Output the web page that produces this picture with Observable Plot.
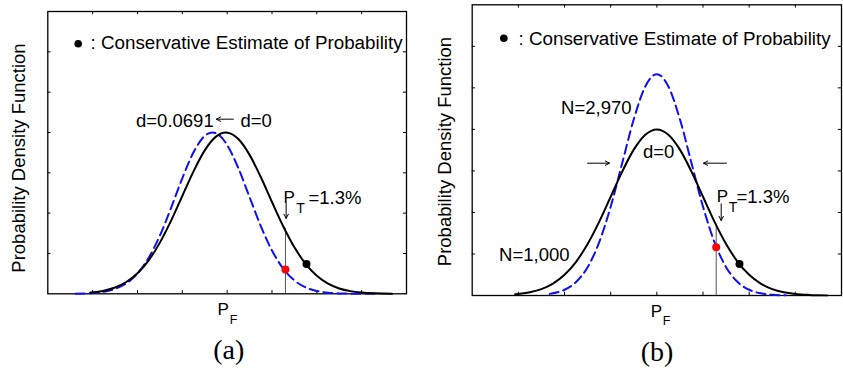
<!DOCTYPE html>
<html>
<head>
<meta charset="utf-8">
<script src="https://cdn.jsdelivr.net/npm/d3@7"></script>
<script src="https://cdn.jsdelivr.net/npm/@observablehq/plot@0.6"></script>
<style>
  html, body { margin: 0; padding: 0; background: white; }
  #wrap { display: flex; flex-direction: row; width: 843px; height: 371px; }
  #wrap svg { display: block; }
</style>
</head>
<body>
<div id="wrap"><div id="a"></div><div id="b"></div></div>
<script>
// ---- data (x in axis units 0..8, density in axis units 0..7) ----
const xTicks = [1, 2, 3, 4, 5, 6, 7];
const yTicks = [1, 2, 3, 4, 5, 6];

// Panel (a): d = 0 (solid black) and d = 0.0691 (dashed blue)
const aSolidU = [0.95, 1.25, 1.5, 1.75, 2, 2.25, 2.5, 2.75, 3, 3.25, 3.5, 3.75, 3.97, 4.25, 4.5, 4.75, 5, 5.25, 5.5, 5.75, 6, 6.25, 6.5, 6.75, 7, 7.3, 7.68];
const aSolidV = [0.031, 0.078, 0.156, 0.292, 0.509, 0.831, 1.269, 1.814, 2.426, 3.037, 3.557, 3.898, 4, 3.837, 3.445, 2.895, 2.276, 1.675, 1.153, 0.743, 0.448, 0.253, 0.133, 0.066, 0.030, 0.011, 0.003];
const aDashU = [0.62, 1, 1.25, 1.5, 1.75, 2, 2.25, 2.5, 2.75, 3, 3.25, 3.5, 3.67, 3.85, 4, 4.25, 4.5, 4.75, 5, 5.25, 5.5, 5.75, 6, 6.25, 6.5, 7, 7.37];
const aDashV = [0.004, 0.020, 0.051, 0.121, 0.258, 0.503, 0.893, 1.445, 2.132, 2.865, 3.508, 3.915, 4, 3.905, 3.689, 3.115, 2.396, 1.680, 1.074, 0.625, 0.332, 0.160, 0.071, 0.028, 0.010, 0.001, 0];
const aTargetU = 5.30;            // P_T position
const aTargetTop = 1.62;          // where the P_T line meets the solid curve
const aDots = [
  { u: 5.30, v: 0.60, kind: "target" },
  { u: 5.77, v: 0.74, kind: "conservative" }
];

// Panel (b): N = 1,000 (solid black) and N = 2,970 (dashed blue)
const bSolidU = [0.93, 1.25, 1.5, 1.75, 2, 2.25, 2.5, 2.75, 3, 3.25, 3.5, 3.75, 4, 4.25, 4.5, 4.75, 5, 5.25, 5.5, 5.75, 6, 6.25, 6.5, 6.75, 7, 7.3, 7.69];
const bSolidV = [0.030, 0.078, 0.154, 0.287, 0.498, 0.812, 1.240, 1.773, 2.377, 2.984, 3.512, 3.872, 4, 3.872, 3.512, 2.984, 2.377, 1.773, 1.240, 0.812, 0.498, 0.287, 0.154, 0.078, 0.037, 0.014, 0.003];
const bDashU = [1.68, 2, 2.25, 2.5, 2.75, 3, 3.25, 3.5, 3.75, 4, 4.25, 4.5, 4.75, 5, 5.25, 5.5, 5.75, 6, 6.25, 6.5, 6.79];
const bDashV = [0.039, 0.138, 0.325, 0.683, 1.280, 2.139, 3.190, 4.242, 5.034, 5.33, 5.034, 4.242, 3.190, 2.139, 1.280, 0.683, 0.325, 0.138, 0.052, 0.018, 0.004];
const bTargetU = 5.286;
const bTargetTop = 1.70;
const bDots = [
  { u: 5.286, v: 1.16, kind: "target" },
  { u: 5.79, v: 0.76, kind: "conservative" }
];

const legendText = ": Conservative Estimate of Probability";
const yLabel = "Probability Density Function";

// ---- helpers ----
const FONT = "Liberation Sans, Arial, Helvetica, sans-serif";
const SERIF = "Liberation Serif, Times New Roman, serif";
const pts = (us, vs) => us.map((u, i) => ({ u, v: vs[i] }));

function label(text, u, v, o = {}) {
  return Plot.text([text], {
    x: () => u, y: () => v, text: d => d,
    textAnchor: o.anchor || "start", lineAnchor: "middle",
    fontSize: o.size || 18.5, fontFamily: o.family || FONT,
    fill: "black", rotate: o.rotate || 0
  });
}
function arrow(u1, v1, u2, v2) {
  return Plot.arrow([0], {
    x1: () => u1, y1: () => v1, x2: () => u2, y2: () => v2,
    stroke: "black", strokeWidth: 1, headLength: 7, headAngle: 55
  });
}
function frameTicks() {
  return [
    Plot.ruleX(xTicks, { x: d => d, y1: () => 0, y2: () => 0.08, stroke: "black", strokeWidth: 1 }),
    Plot.ruleX(xTicks, { x: d => d, y1: () => 6.92, y2: () => 7, stroke: "black", strokeWidth: 1 }),
    Plot.ruleY(yTicks, { y: d => d, x1: () => 0, x2: () => 0.07, stroke: "black", strokeWidth: 1 }),
    Plot.ruleY(yTicks, { y: d => d, x1: () => 7.93, x2: () => 8, stroke: "black", strokeWidth: 1 }),
    Plot.frame({ stroke: "black", strokeWidth: 1.3 })
  ];
}
function curves(solid, dashed, tU, tTop, dots) {
  return [
    Plot.ruleX([tU], { x: d => d, y1: () => 0, y2: () => tTop, stroke: "#555", strokeWidth: 1 }),
    Plot.line(dashed, { x: "u", y: "v", stroke: "#1010ee", strokeWidth: 2, strokeDasharray: "9,5", curve: "monotone-x" }),
    Plot.line(solid, { x: "u", y: "v", stroke: "black", strokeWidth: 2, curve: "monotone-x" }),
    Plot.dot(dots, { x: "u", y: "v", r: 4, fill: d => d.kind === "target" ? "#ff0000" : "black", stroke: "none" })
  ];
}
const baseStyle = { fontFamily: FONT, background: "white", overflow: "visible" };

// ---- panel (a) ----
const chartA = Plot.plot({
  width: 420, height: 371,
  marginLeft: 47.3, marginRight: 14, marginTop: 11, marginBottom: 77.7,
  x: { domain: [0, 8], axis: null },
  y: { domain: [0, 7], axis: null },
  style: baseStyle,
  marks: [
    ...frameTicks(),
    ...curves(pts(aSolidU, aSolidV), pts(aDashU, aDashV), aTargetU, aTargetTop, aDots),
    Plot.dot([0], { x: () => 0.678, y: () => 6.2, r: 3.8, fill: "black", stroke: "none" }),
    label(legendText, 0.952, 6.215, { size: 18.8 }),
    label("d=0.0691", 3.70, 4.285, { anchor: "end" }),
    arrow(4.14, 4.33, 3.76, 4.33),
    label("d=0", 4.297, 4.285),
    label("P", 5.257, 2.375, { size: 17 }),
    label("T", 5.54, 2.11, { size: 14 }),
    label("=1.3%", 5.814, 2.375),
    arrow(5.316, 2.24, 5.316, 1.87),
    label("P", 3.785, -0.39, { size: 17 }),
    label("F", 4.06, -0.66, { size: 12.5 }),
    label("(a)", 4.036, -1.40, { anchor: "middle", size: 28, family: SERIF }),
    label(yLabel, -0.63, 3.367, { anchor: "middle", rotate: -90 })
  ]
});
document.getElementById("a").appendChild(chartA);

// ---- panel (b) ----
const chartB = Plot.plot({
  width: 423, height: 371,
  marginLeft: 51.7, marginRight: 2, marginTop: 4.3, marginBottom: 76,
  x: { domain: [0, 8], axis: null },
  y: { domain: [0, 7], axis: null },
  style: baseStyle,
  marks: [
    ...frameTicks(),
    ...curves(pts(bSolidU, bSolidV), pts(bDashU, bDashV), bTargetU, bTargetTop, bDots),
    Plot.dot([0], { x: () => 0.685, y: () => 6.195, r: 3.8, fill: "black", stroke: "none" }),
    label(legendText, 1.003, 6.188, { size: 18.8 }),
    label("N=2,970", 3.452, 4.515, { anchor: "end" }),
    label("d=0", 4.04, 3.45, { anchor: "middle" }),
    arrow(2.498, 3.186, 2.974, 3.186),
    arrow(5.509, 3.186, 5.011, 3.186),
    label("N=1,000", 2.108, 0.963, { anchor: "end" }),
    label("P", 5.296, 2.377, { size: 17 }),
    label("T", 5.555, 2.126, { size: 14 }),
    label("=1.3%", 5.724, 2.377),
    arrow(5.394, 2.208, 5.394, 1.806),
    label("P", 3.867, -0.385, { size: 17 }),
    label("F", 4.127, -0.626, { size: 12.5 }),
    label("(b)", 4.003, -1.36, { anchor: "middle", size: 28, family: SERIF }),
    label(yLabel, -0.578, 3.467, { anchor: "middle", rotate: -90 })
  ]
});
document.getElementById("b").appendChild(chartB);
</script>
</body>
</html>
